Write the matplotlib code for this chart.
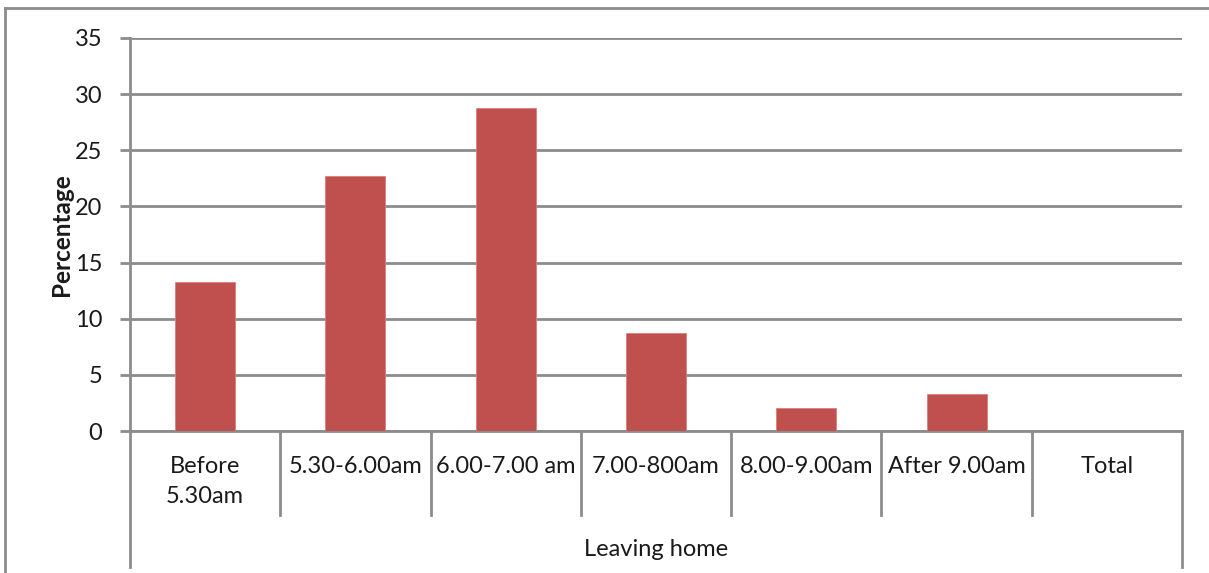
import matplotlib.pyplot as plt
from matplotlib.lines import Line2D
from matplotlib.transforms import blended_transform_factory

categories = ["Before\n5.30am", "5.30-6.00am", "6.00-7.00 am", "7.00-800am",
              "8.00-9.00am", "After 9.00am", "Total"]
percent = [13.3, 22.7, 28.8, 8.7, 2.05, 3.3, 0]
yticks = [0, 5, 10, 15, 20, 25, 30, 35]

W, H = 1209, 573
fig = plt.figure(figsize=(W / 100, H / 100), dpi=100)
plt.rcParams['font.family'] = ['Lato', 'DejaVu Sans']

# plot area in pixels: left 130, right 1182, top 38, bottom 431
x0, x1, y0, y1 = 130, 1182, 38, 431
ax = fig.add_axes([x0 / W, 1 - y1 / H, (x1 - x0) / W, (y1 - y0) / H])

grey = '#8c8c8c'
txt = '#1a1a1a'
fs = 17
n = len(categories)
ax.bar(range(n), percent, width=0.4, color='#c0504d', edgecolor='#d9807d',
       linewidth=0.6, zorder=3)
ax.set_xlim(-0.5, n - 0.5)
ax.set_ylim(0, 35)
ax.set_yticks(yticks)
ax.set_yticklabels([str(v) for v in yticks], fontsize=fs, color=txt)
ax.yaxis.grid(True, color=grey, linewidth=2, zorder=0)
ax.tick_params(axis='y', length=7, width=2, color=grey, pad=13)
ax.set_xticks([])
for s in ['top', 'right']:
    ax.spines[s].set_visible(False)
ax.spines['left'].set_color(grey)
ax.spines['left'].set_linewidth(2)
ax.spines['bottom'].set_color(grey)
ax.spines['bottom'].set_linewidth(2)
ax.set_ylabel('Percentage', fontsize=17.5, fontweight='bold', labelpad=1,
              color=txt)

# multi-level category axis below the plot
ph = y1 - y0
tr = blended_transform_factory(ax.transData, ax.transAxes)
sep_low = -(515 - y1) / ph
outer_low = -(567 - y1) / ph
for i in range(1, n):
    ax.add_line(Line2D([i - 0.5, i - 0.5], [0, sep_low], transform=tr,
                       color=grey, lw=2, clip_on=False))
for xe in (-0.5, n - 0.5):
    ax.add_line(Line2D([xe, xe], [0, outer_low], transform=tr,
                       color=grey, lw=2, clip_on=False))
for i, lab in enumerate(categories):
    ax.text(i, -(456 - y1) / ph, lab, transform=tr, ha='center', va='top',
            fontsize=fs, color=txt, linespacing=1.55)
ax.text((n - 1) / 2, -(549 - y1) / ph, 'Leaving home', transform=tr,
        ha='center', va='center', fontsize=fs, color=txt)

# chart border (top and left edges)
fig.add_artist(Line2D([5 / W, 1], [1 - 8 / H, 1 - 8 / H], color=grey, lw=2))
fig.add_artist(Line2D([5 / W, 5 / W], [0, 1 - 8 / H], color=grey, lw=2))

fig.savefig('out.png', dpi=100)
